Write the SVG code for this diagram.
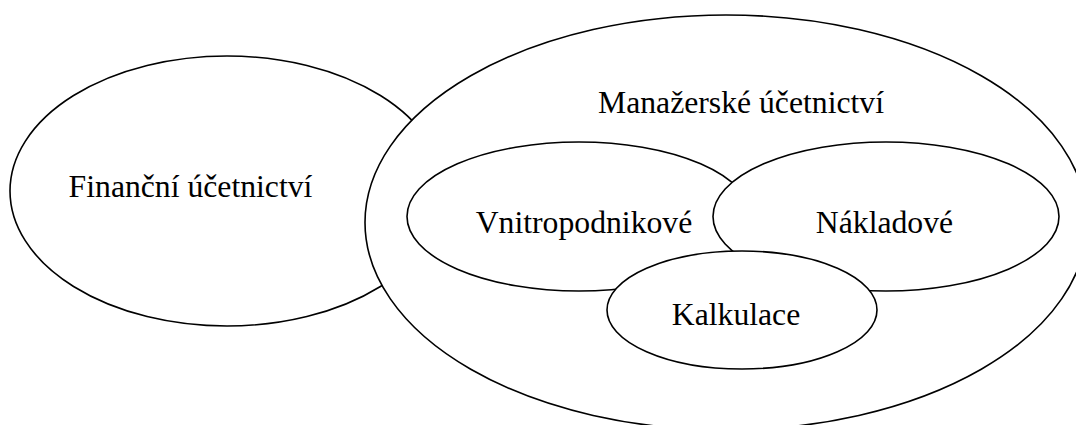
<svg xmlns="http://www.w3.org/2000/svg" width="1076" height="425" viewBox="0 0 1076 425">
  <style>
    .set { fill: #ffffff; stroke: #000000; stroke-width: 1.6; }
    .label { font-family: 'Liberation Serif', Tinos, 'Times New Roman', 'DejaVu Serif', serif; font-size: 31.7px; fill: #000000; text-anchor: middle; }
  </style>
  <rect width="1076" height="425" fill="#ffffff"/>
  <g id="financni">
    <ellipse class="set" cx="227" cy="191" rx="217" ry="135"/>
    <text class="label" x="190.5" y="197">Finanční účetnictví</text>
  </g>
  <g id="manazerske">
    <ellipse class="set" cx="726" cy="222.5" rx="361" ry="207.5"/>
    <text class="label" x="741" y="113">Manažerské účetnictví</text>
  </g>
  <g id="vnitropodnikove">
    <ellipse class="set" cx="579" cy="216.5" rx="172" ry="74.5"/>
    <text class="label" x="584" y="233">Vnitropodnikové</text>
  </g>
  <g id="nakladove">
    <ellipse class="set" cx="886" cy="216.5" rx="173" ry="74.5"/>
    <text class="label" x="884.5" y="233">Nákladové</text>
  </g>
  <g id="kalkulace">
    <ellipse class="set" cx="742" cy="310" rx="135" ry="59"/>
    <text class="label" x="736" y="325">Kalkulace</text>
  </g>
  <g id="connectors"/>
</svg>
